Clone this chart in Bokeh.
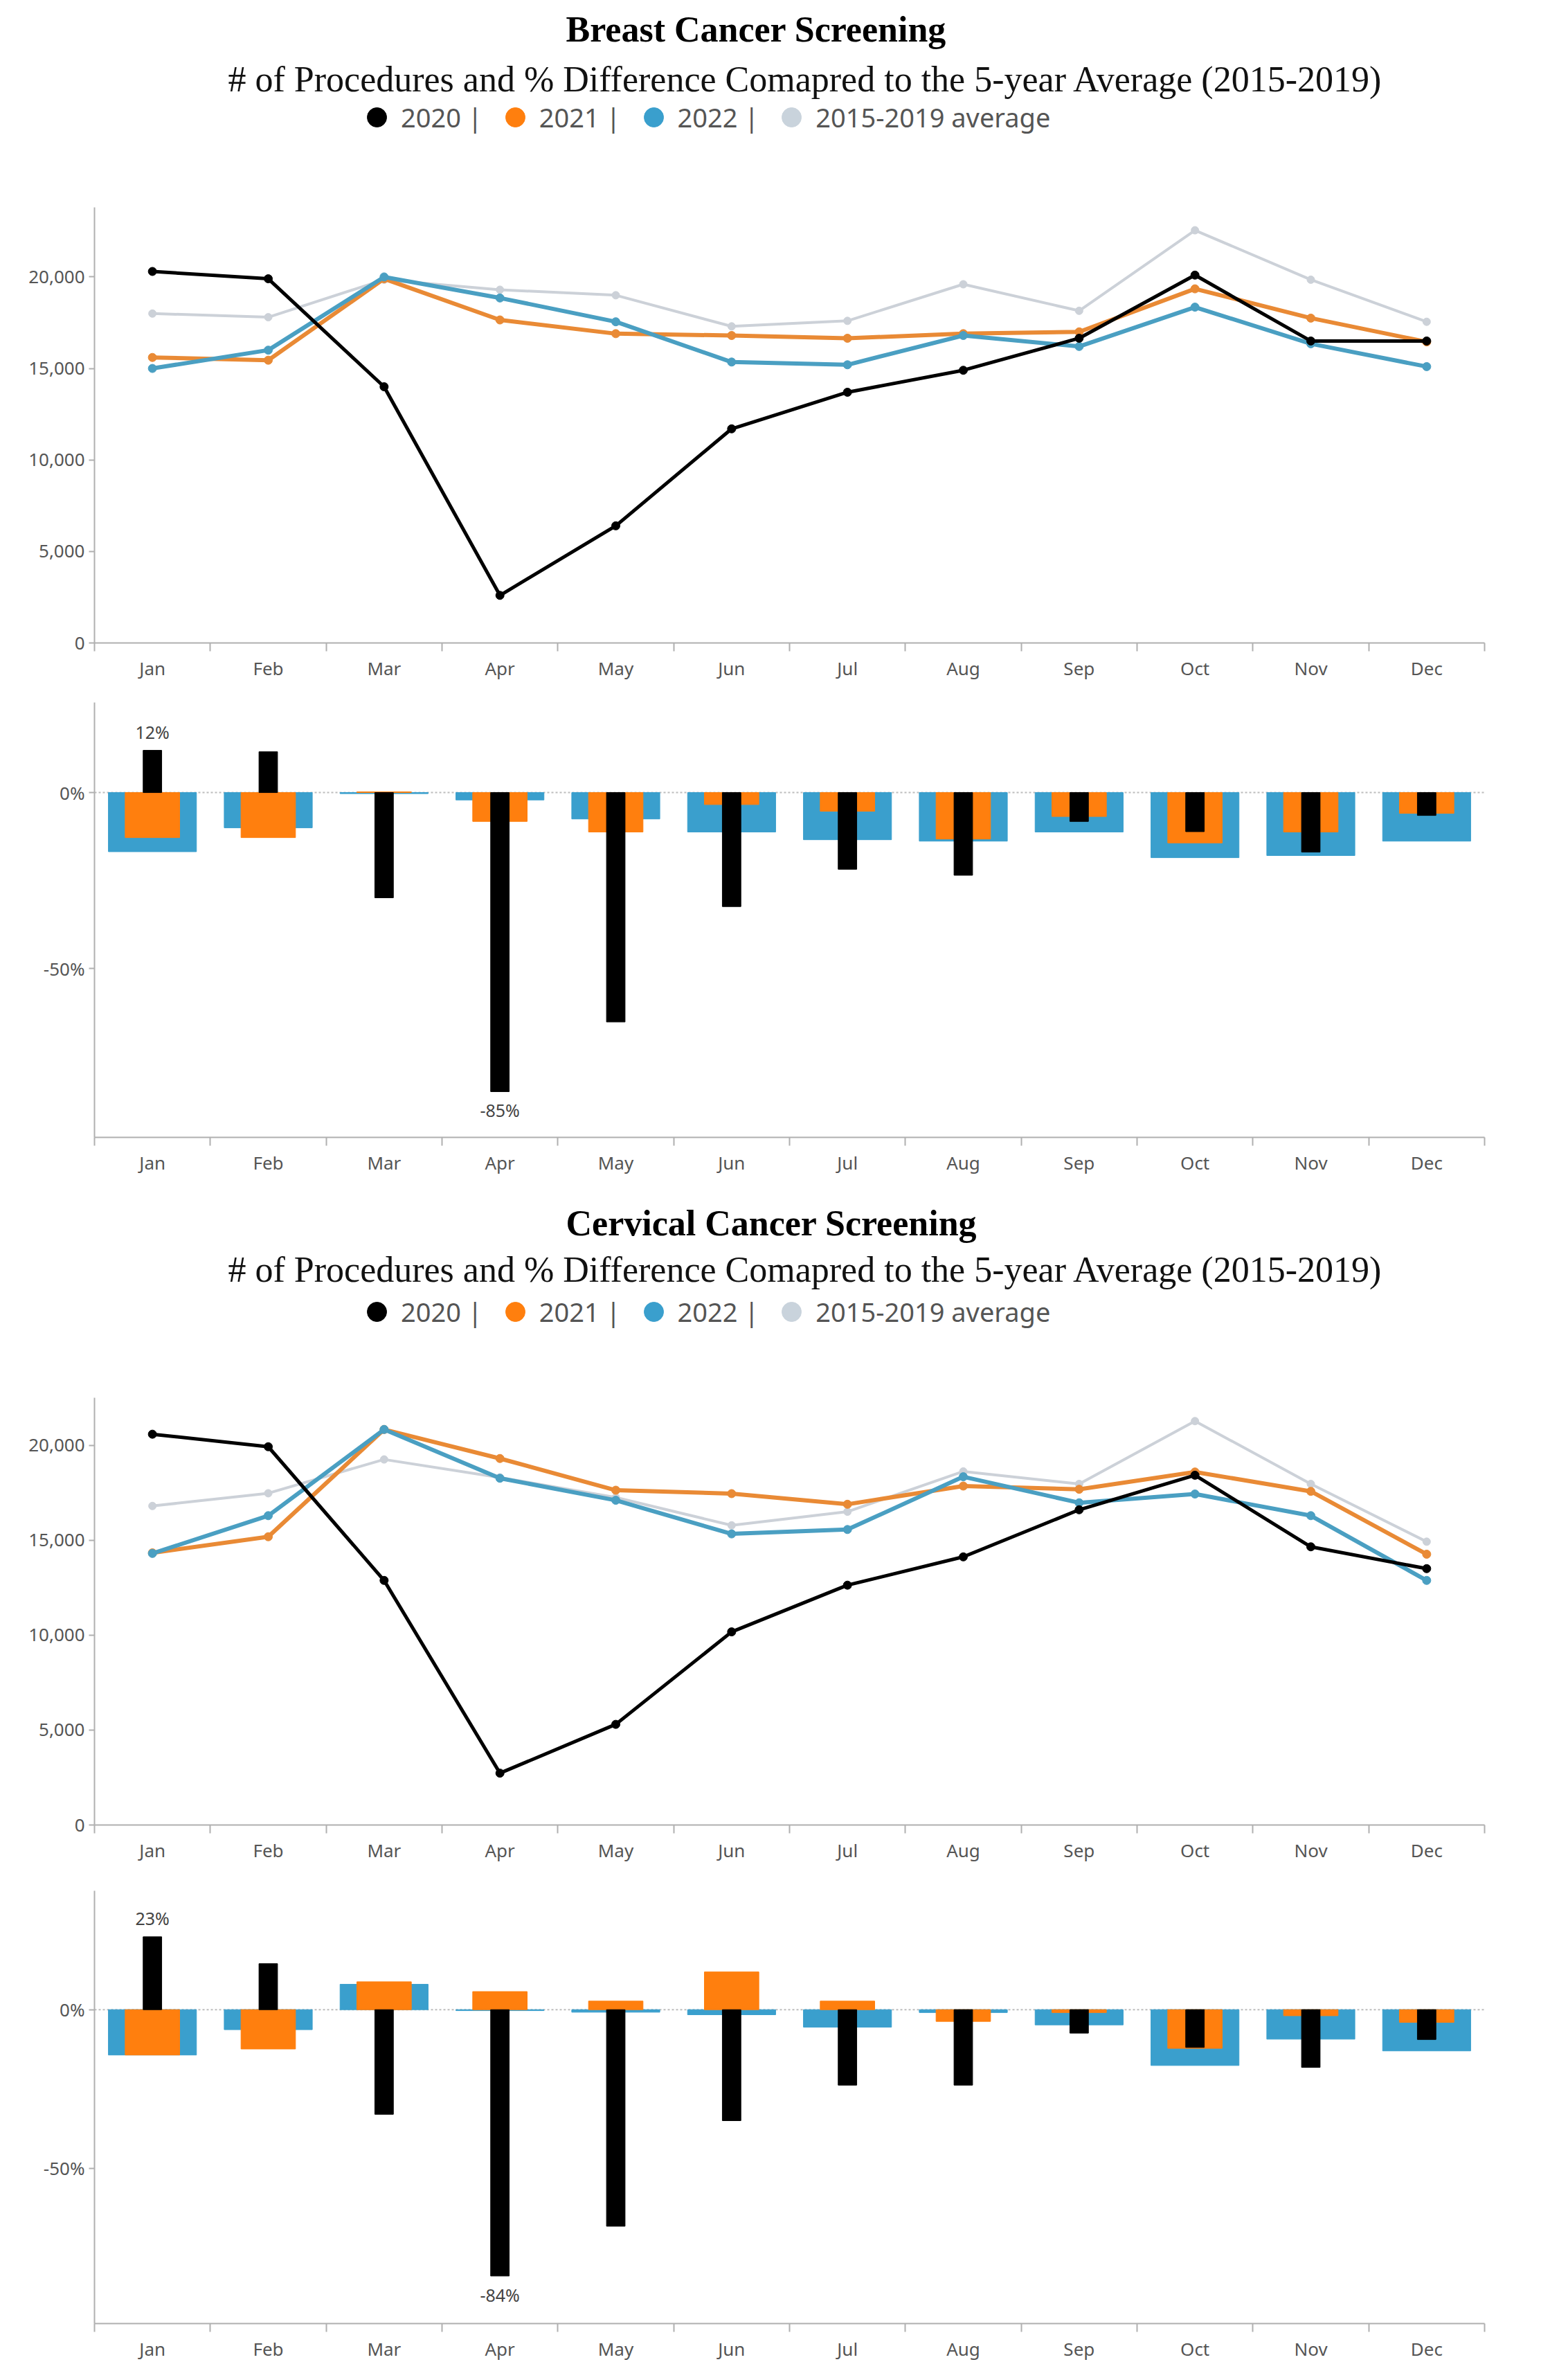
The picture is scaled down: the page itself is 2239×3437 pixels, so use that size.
from bokeh.plotting import figure
from bokeh.layouts import column
from bokeh.models import (Range1d, FixedTicker, Title, Legend, LegendItem, Span,
                          NumeralTickFormatter, PrintfTickFormatter, ColumnDataSource)
from bokeh.embed import file_html
from bokeh.resources import INLINE
from bokeh.core.properties import value

# ---------------- data ----------------
months = ["Jan", "Feb", "Mar", "Apr", "May", "Jun", "Jul", "Aug", "Sep", "Oct", "Nov", "Dec"]
series_names = ["2020", "2021", "2022", "2015-2019 average"]

breast_2020 = [20300, 19900, 14000, 2600, 6400, 11700, 13700, 14900, 16650, 20100, 16500, 16500]
breast_2021 = [15600, 15450, 19900, 17650, 16900, 16800, 16650, 16900, 17000, 19350, 17750, 16450]
breast_2022 = [15000, 16000, 20000, 18850, 17550, 15350, 15200, 16800, 16200, 18350, 16350, 15100]
breast_avg = [18000, 17800, 19850, 19300, 19000, 17300, 17600, 19600, 18150, 22550, 19850, 17550]

breast_pct_2020 = [12, 11.6, -29.9, -85, -65.2, -32.4, -21.8, -23.5, -8.2, -11.1, -16.9, -6.5]
breast_pct_2021 = [-12.8, -12.8, 0.2, -8.2, -11.2, -3.4, -5.3, -13.2, -6.8, -14.3, -11.2, -5.9]
breast_pct_2022 = [-16.8, -10.0, -0.3, -2.1, -7.5, -11.2, -13.4, -13.8, -11.2, -18.5, -17.9, -13.8]

cerv_2020 = [20580, 19920, 12880, 2730, 5300, 10170, 12630, 14120, 16600, 18420, 14650, 13500]
cerv_2021 = [14330, 15180, 20830, 19300, 17630, 17450, 16890, 17850, 17680, 18590, 17570, 14260]
cerv_2022 = [14300, 16290, 20830, 18260, 17100, 15330, 15560, 18340, 16970, 17430, 16290, 12880]
cerv_avg = [16800, 17470, 19250, 18300, 17250, 15780, 16500, 18620, 17960, 21270, 17960, 14920]

cerv_pct_2020 = [23, 14.5, -33, -84, -68.3, -35, -23.8, -23.8, -7.4, -11.9, -18.2, -9.4]
cerv_pct_2021 = [-14.3, -12.4, 8.8, 5.7, 2.7, 11.9, 2.7, -3.7, -0.9, -12.2, -1.9, -4.0]
cerv_pct_2022 = [-14.3, -6.3, 8.0, -0.3, -0.8, -1.6, -5.5, -0.9, -4.8, -17.6, -9.3, -13.0]

# ---------------- style ----------------
BLACK = "#000000"
ORANGE_BAR = "#ff7f0e"
BLUE_BAR = "#3a9fcd"
ORANGE_LINE = "#e98a35"
BLUE_LINE = "#4a9fc2"
GREY_LINE = "#ccd1d8"
GREY_DOT = "#c9d3dc"
AXIS = "#b0b0b0"
LABEL = "#555555"
SANS = "Noto Sans"
SERIF = "Liberation Serif"
W = 2223
LEFT = 136
RIGHT = 79
SUBTITLE = "# of Procedures and % Difference Comapred to the 5-year Average (2015-2019)"

# month index (category slot) used by the x scale
month_idx = list(range(len(months)))
month_edges = [i - 0.5 for i in range(len(months) + 1)]


def style_axes(p):
    xa = p.xaxis[0]
    xa.ticker = FixedTicker(ticks=month_idx, minor_ticks=month_edges)
    xa.major_label_overrides = {i: m for i, m in zip(month_idx, months)}
    xa.axis_line_color = AXIS
    xa.axis_line_width = 2
    xa.major_tick_line_color = None
    xa.minor_tick_line_color = AXIS
    xa.minor_tick_line_width = 2
    xa.minor_tick_out = 12
    xa.minor_tick_in = 0
    xa.major_tick_out = 12
    xa.major_tick_in = 0
    xa.major_label_standoff = 6
    xa.major_label_text_font = SANS
    xa.major_label_text_font_size = "26px"
    xa.major_label_text_color = LABEL
    ya = p.yaxis[0]
    ya.axis_line_color = AXIS
    ya.axis_line_width = 2
    ya.major_tick_line_color = AXIS
    ya.major_tick_line_width = 2
    ya.major_tick_out = 8
    ya.major_tick_in = 0
    ya.minor_tick_line_color = None
    ya.major_label_text_font = SANS
    ya.major_label_text_font_size = "26px"
    ya.major_label_text_color = LABEL
    ya.major_label_standoff = 6


def header_fig(title, series, height, title_standoff, legend_y, top_pad):
    h = figure(x_range=Range1d(0, 1), y_range=Range1d(0, 1), width=W, height=height,
               x_axis_location=None, y_axis_location=None, output_backend="svg",
               toolbar_location=None, min_border_top=0, min_border_bottom=0,
               min_border_left=LEFT, min_border_right=RIGHT)
    h.outline_line_color = None
    h.grid.visible = False
    items = []
    labels = [series_names[0] + " |", series_names[1] + " |", series_names[2] + " |", series_names[3]]
    for lab, col, data in zip(labels, [BLACK, ORANGE_BAR, BLUE_BAR, GREY_DOT], series):
        r = h.scatter(x=month_idx, y=data, marker="circle", size=20, color=col, visible=False)
        items.append(LegendItem(label=value(lab), renderers=[r]))
    leg = Legend(items=items, orientation="horizontal", location=(373, legend_y),
                 border_line_color=None, background_fill_alpha=0,
                 inactive_fill_alpha=0, click_policy="none",
                 label_text_font=SANS, label_text_font_size="38px", label_text_color=LABEL,
                 glyph_width=70, glyph_height=70, label_standoff=-16, spacing=12,
                 padding=0, margin=0)
    h.add_layout(leg, "center")
    h.add_layout(Title(text=SUBTITLE, text_font=SERIF, text_font_size="52px",
                       text_font_style="normal", text_color="#111111", align="left",
                       offset=193, standoff=4), "above")
    h.add_layout(Title(text=title, text_font=SERIF, text_font_size="52px", text_font_style="bold",
                       text_color="#000000", align="left", offset=681,
                       standoff=title_standoff), "above")
    if top_pad:
        h.add_layout(Title(text=" ", text_font_size=top_pad, standoff=0), "above")
    return h


def line_fig(d20, d21, d22, davg, ymax, height, top, bottom):
    p = figure(x_range=Range1d(-0.5, len(months) - 0.5), y_range=Range1d(0, ymax), width=W, height=height,
               output_backend="svg", toolbar_location=None,
               min_border_left=LEFT, min_border_right=RIGHT, min_border_top=top, min_border_bottom=bottom)
    p.outline_line_color = None
    p.grid.visible = False
    style_axes(p)
    p.yaxis[0].ticker = FixedTicker(ticks=[0, 5000, 10000, 15000, 20000])
    p.yaxis[0].formatter = NumeralTickFormatter(format="0,0")
    for data, col, lw, sz in [(davg, GREY_LINE, 4, 11), (d21, ORANGE_LINE, 6, 12),
                              (d22, BLUE_LINE, 6, 12), (d20, BLACK, 5, 12)]:
        src = ColumnDataSource(dict(x=month_idx, y=data))
        p.line("x", "y", source=src, line_color=col, line_width=lw)
        p.scatter("x", "y", source=src, marker="circle", size=sz, color=col)
    return p


def bar_fig(p20, p21, p22, ymin, ymax, height, top, bottom):
    p = figure(x_range=Range1d(-0.5, len(months) - 0.5), y_range=Range1d(ymin, ymax), width=W, height=height,
               output_backend="svg", toolbar_location=None,
               min_border_left=LEFT, min_border_right=RIGHT, min_border_top=top, min_border_bottom=bottom)
    p.outline_line_color = None
    p.grid.visible = False
    style_axes(p)
    p.yaxis[0].ticker = FixedTicker(ticks=[-50, 0])
    p.yaxis[0].formatter = PrintfTickFormatter(format="%d%%")
    p.add_layout(Span(location=0, dimension="width", line_color="#bdbdbd", line_width=2,
                      line_dash="3 3", level="underlay"))
    src = ColumnDataSource(dict(x=month_idx, p20=p20, p21=p21, p22=p22))
    p.vbar(x="x", top="p22", source=src, width=0.76, color=BLUE_BAR)
    p.vbar(x="x", top="p21", source=src, width=0.47, color=ORANGE_BAR)
    p.vbar(x="x", top="p20", source=src, width=0.16, color=BLACK)
    imax = max(month_idx, key=lambda i: p20[i])
    imin = min(month_idx, key=lambda i: p20[i])
    p.text(x=[imax], y=[p20[imax]], text=["%d%%" % round(p20[imax])],
           text_align="center", text_baseline="bottom", y_offset=-10,
           text_font=value(SANS), text_font_size="25px", text_color="#444444")
    p.text(x=[imin], y=[p20[imin]], text=["%d%%" % round(p20[imin])],
           text_align="center", text_baseline="top", y_offset=10,
           text_font=value(SANS), text_font_size="25px", text_color="#444444")
    return p


hA = header_fig("Breast Cancer Screening", [breast_2020, breast_2021, breast_2022, breast_avg],
                202, 22, -2, None)
pA = line_fig(breast_2020, breast_2021, breast_2022, breast_avg, 23800, 790, 97, 64)
pB = bar_fig(breast_pct_2020, breast_pct_2021, breast_pct_2022, -98, 25.6, 720, 22, 70)
hC = header_fig("Cervical Cancer Screening", [cerv_2020, cerv_2021, cerv_2022, cerv_avg],
                216, 11, -1, "14px")
pC = line_fig(cerv_2020, cerv_2021, cerv_2022, cerv_avg, 22500, 764, 90, 50)
pD = bar_fig(cerv_pct_2020, cerv_pct_2021, cerv_pct_2022, -99, 37.5, 720, 38, 57)

layout = column(hA, pA, pB, hC, pC, pD, spacing=0)
open("out.html", "w").write(file_html(layout, INLINE))
